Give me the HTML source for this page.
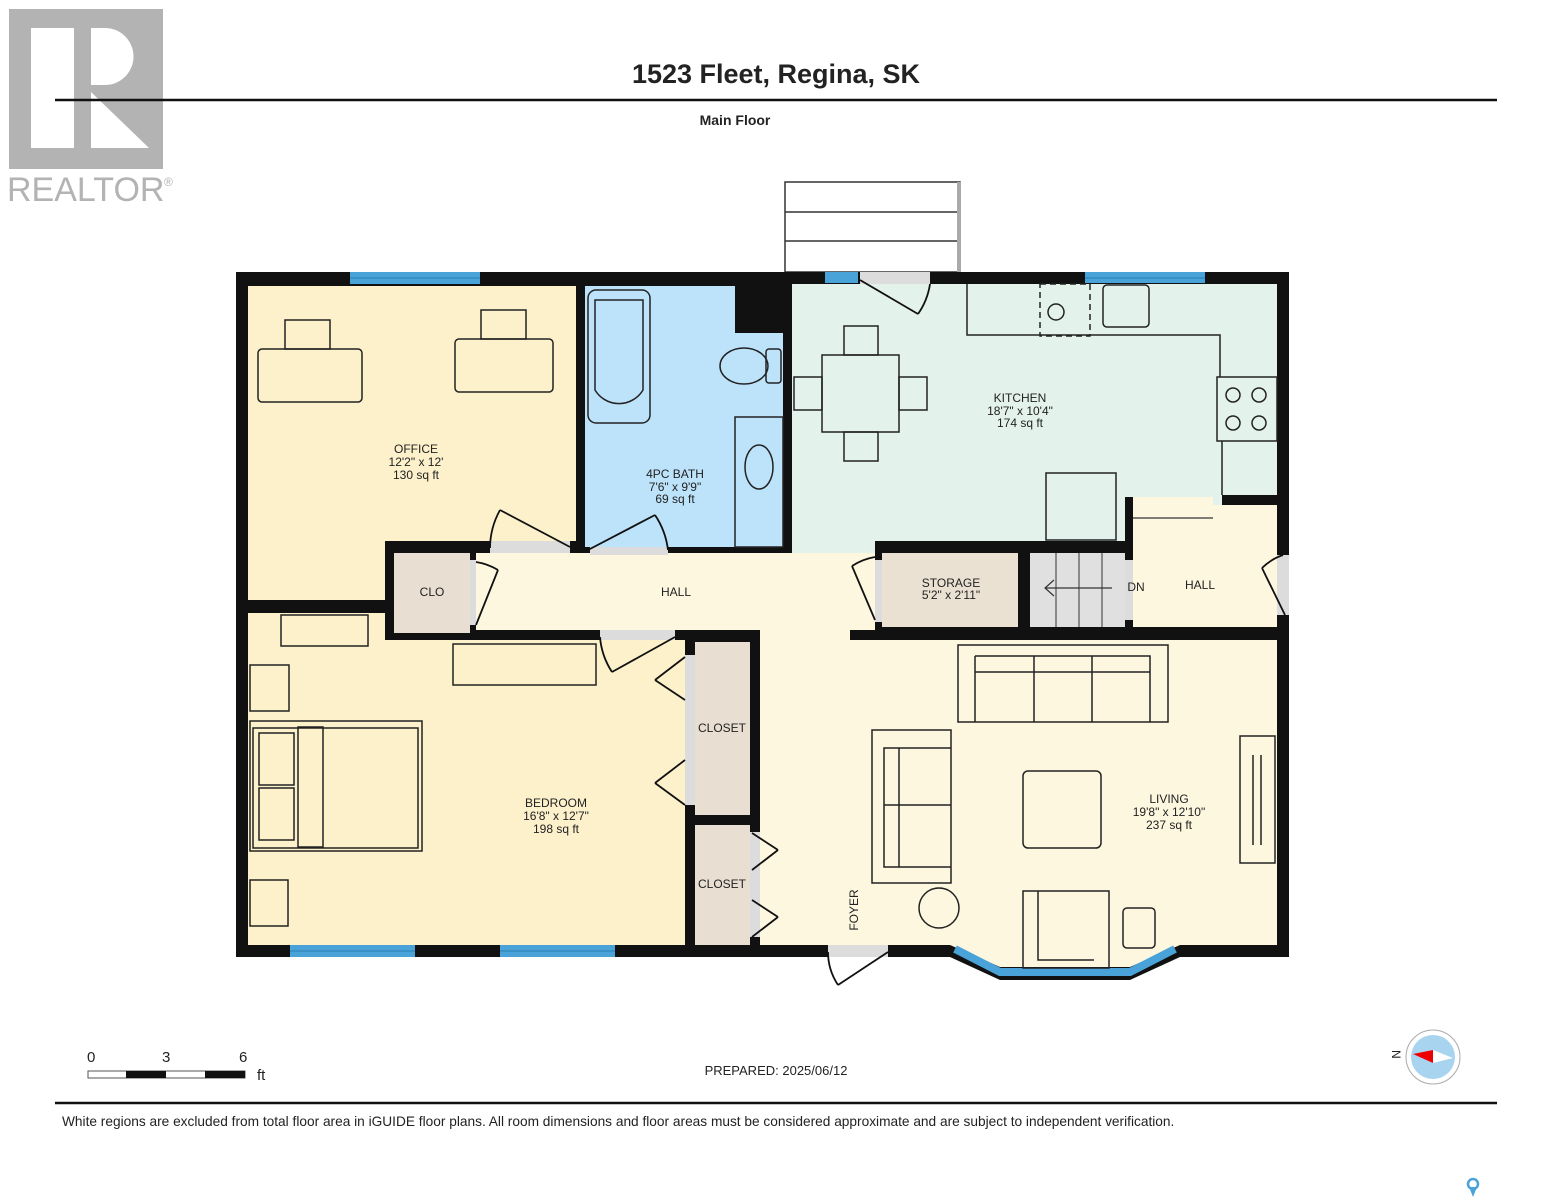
<!DOCTYPE html>
<html><head><meta charset="utf-8"><style>
html,body{margin:0;padding:0;background:#fff;}
svg{display:block;}
text{font-family:"Liberation Sans",Arial,sans-serif;fill:#222;}
</style></head><body>
<svg width="1553" height="1200" viewBox="0 0 1553 1200" xmlns="http://www.w3.org/2000/svg">
<!-- Realtor logo -->
<rect x="9" y="9" width="154" height="160" fill="#b3b3b3"/>
<rect x="31" y="28" width="43" height="120" fill="#fff"/>
<path d="M91 28 H105 A28.5 28.5 0 0 1 105 85 H91 Z" fill="#fff"/>
<path d="M91 92 L149 148 H91 Z" fill="#fff"/>
<text x="7" y="201" font-size="34" style="fill:#b3b3b3">REALTOR</text>
<text x="164" y="186" font-size="12" style="fill:#b3b3b3">®</text>
<!-- header -->
<text x="776" y="83" font-size="27" font-weight="bold" text-anchor="middle">1523 Fleet, Regina, SK</text>
<line x1="55" y1="100" x2="1497" y2="100" stroke="#111" stroke-width="2.5"/>
<text x="735" y="125" font-size="14" font-weight="bold" text-anchor="middle">Main Floor</text>
<!-- stoop -->
<rect x="785" y="182" width="175" height="90" fill="#fff" stroke="#333" stroke-width="1.5"/>
<line x1="785" y1="212" x2="960" y2="212" stroke="#333" stroke-width="1.5"/>
<line x1="785" y1="241" x2="960" y2="241" stroke="#333" stroke-width="1.5"/>
<rect x="957" y="182" width="4" height="90" fill="#aaa"/>
<!-- wall mass -->
<path d="M236 272 H1289 V957 H1180 L1130 980 H1000 L950 957 H236 Z" fill="#111"/>
<!-- rooms -->
<path d="M248 286 H576 V541 H385 V600 H248 Z" fill="#fdf1cc"/>
<path d="M585 286 H735 V333 H783 V547 H585 Z" fill="#bde3fb"/>
<path d="M792 284 H1277 V495 H1222 V505 H1213 V497 H1125 V541 H875 V553 H792 Z" fill="#e3f3ec"/>
<rect x="1133" y="505" width="144" height="122" fill="#fdf7e0"/>
<rect x="1133" y="497" width="80" height="43" fill="#fdf7e0"/>
<line x1="1133" y1="518" x2="1213" y2="518" stroke="#333" stroke-width="1.2"/>
<path d="M476 553 H875 V630 H850 V640 H1277 V945 H1180 L1130 967 H1000 L950 945 H760 V630 H476 Z" fill="#fdf7e0"/>
<rect x="394" y="553" width="76" height="80" fill="#e8dfd2"/>
<rect x="882" y="553" width="136" height="74" fill="#ebe1d3"/>
<rect x="1030" y="553" width="95" height="74" fill="#e0e0e0"/>
<g stroke="#333" stroke-width="1"><line x1="1056" y1="553" x2="1056" y2="627"/><line x1="1079" y1="553" x2="1079" y2="627"/><line x1="1102" y1="553" x2="1102" y2="627"/></g>
<line x1="1045" y1="588" x2="1112" y2="588" stroke="#333" stroke-width="1.2"/>
<path d="M1054 580 L1045 588 L1054 596" fill="none" stroke="#333" stroke-width="1.2"/>
<path d="M248 613 H385 V640 H685 V945 H248 Z" fill="#fdf1cc"/>
<rect x="695" y="642" width="55" height="173" fill="#e8dfd2"/>
<rect x="695" y="825" width="55" height="120" fill="#e8dfd2"/>
<!-- windows -->
<g fill="#4aa3d8">
<rect x="350" y="272" width="130" height="12"/>
<rect x="825" y="272" width="33" height="11"/>
<rect x="1085" y="272" width="120" height="11"/>
<rect x="290" y="945" width="125" height="12"/>
<rect x="500" y="945" width="115" height="12"/>
</g>
<path d="M955 949 L1000 972 L1130 972 L1175 949" fill="none" stroke="#4aa3d8" stroke-width="8"/>
<g stroke="#2a7fb5" stroke-width="1"><line x1="350" y1="278" x2="480" y2="278"/><line x1="1085" y1="278" x2="1205" y2="278"/><line x1="290" y1="951" x2="415" y2="951"/><line x1="500" y1="951" x2="615" y2="951"/></g>
<!-- door gaps -->
<g fill="#dcdcdc">
<rect x="860" y="272" width="70" height="12"/>
<rect x="490" y="541" width="80" height="12"/>
<rect x="590" y="547" width="78" height="8"/>
<rect x="470" y="560" width="6" height="65"/>
<rect x="875" y="560" width="7" height="62"/>
<rect x="1125" y="560" width="8" height="60"/>
<rect x="1277" y="555" width="12" height="60"/>
<rect x="600" y="630" width="75" height="10"/>
<rect x="685" y="655" width="10" height="150"/>
<rect x="750" y="832" width="10" height="105"/>
<rect x="828" y="945" width="60" height="12"/>
</g>
<g fill="none" stroke="#111" stroke-width="1.8">
<path d="M860 280 L918 314"/><path d="M918 314 A70 70 0 0 0 930 284"/>
<path d="M570 547 L500 510"/><path d="M500 510 A80 80 0 0 0 490 548"/>
<path d="M588 550 L655 515"/><path d="M655 515 A80 80 0 0 1 668 550"/>
<path d="M476 625 L498 570"/><path d="M498 570 A60 60 0 0 0 476 562"/>
<path d="M875 620 L852 566"/><path d="M852 566 A60 60 0 0 1 875 557"/>
<path d="M1285 615 L1262 568"/><path d="M1262 568 A55 55 0 0 1 1283 555"/>
<path d="M675 637 L612 672"/><path d="M612 672 A75 75 0 0 1 600 637"/>
<path d="M655 680 L685 657 M655 680 L685 700 M655 783 L685 760 M655 783 L685 805"/>
<path d="M778 850 L752 833 M778 850 L752 870 M778 917 L752 900 M778 917 L752 937"/>
<path d="M888 952 L838 985"/><path d="M838 985 A60 60 0 0 1 828 952"/>
</g>
<!-- furniture -->
<g fill="none" stroke="#222" stroke-width="1.5">
<rect x="258" y="349" width="104" height="53" rx="4"/>
<rect x="455" y="339" width="98" height="53" rx="4"/>
<rect x="285" y="320" width="45" height="29"/><rect x="481" y="310" width="45" height="29"/>
<rect x="588" y="290" width="62" height="133" rx="8"/><path d="M595 300 V390 A28 28 0 0 0 643 390 V300 Z"/>
<ellipse cx="744" cy="366" rx="24" ry="18"/><rect x="766" y="349" width="15" height="34" rx="3"/>
<rect x="735" y="417" width="48" height="130"/><ellipse cx="759" cy="467" rx="14" ry="22"/>
<path d="M967 284 V335 H1220 V377"/><rect x="1040" y="284" width="50" height="52" stroke-dasharray="6,4"/>
<circle cx="1056" cy="312" r="8"/><rect x="1103" y="285" width="46" height="42" rx="4"/>
<rect x="1217" y="377" width="60" height="64"/>
<circle cx="1233" cy="395" r="7"/><circle cx="1259" cy="395" r="7"/><circle cx="1233" cy="423" r="7"/><circle cx="1259" cy="423" r="7"/>
<path d="M1222 441 V495"/>
<rect x="1046" y="473" width="70" height="67"/>
<rect x="822" y="355" width="77" height="77"/>
<rect x="844" y="326" width="34" height="29"/><rect x="844" y="432" width="34" height="29"/>
<rect x="794" y="377" width="28" height="33"/><rect x="899" y="377" width="28" height="33"/>
<rect x="281" y="615" width="87" height="31"/>
<rect x="250" y="665" width="39" height="46"/><rect x="250" y="880" width="38" height="46"/>
<rect x="250" y="721" width="172" height="130"/><rect x="253" y="728" width="165" height="120"/>
<rect x="259" y="733" width="35" height="52"/><rect x="259" y="788" width="35" height="52"/>
<rect x="298" y="727" width="25" height="120"/>
<rect x="453" y="644" width="143" height="41"/>
<rect x="958" y="645" width="210" height="77"/><path d="M975 656 H1150 V722 M975 656 V722 M975 672 H1150 M1034 656 V722 M1092 656 V722"/>
<rect x="872" y="730" width="79" height="153"/><path d="M951 748 H884 V867 H951 M884 805 H951 M899 748 V867"/>
<rect x="1023" y="771" width="78" height="77" rx="5"/>
<circle cx="939" cy="908" r="20"/>
<rect x="1023" y="891" width="86" height="77"/><path d="M1038 891 V960 H1094"/>
<rect x="1123" y="908" width="32" height="40" rx="4"/>
<rect x="1240" y="736" width="35" height="127"/><path d="M1253 755 V845 M1261 755 V845"/>
</g>
<!-- labels -->
<g font-size="12" text-anchor="middle">
<text x="416" y="453">OFFICE</text><text x="416" y="466">12'2" x 12'</text><text x="416" y="479">130 sq ft</text>
<text x="675" y="478">4PC BATH</text><text x="675" y="491">7'6" x 9'9"</text><text x="675" y="503">69 sq ft</text>
<text x="1020" y="402">KITCHEN</text><text x="1020" y="415">18'7" x 10'4"</text><text x="1020" y="427">174 sq ft</text>
<text x="432" y="596">CLO</text><text x="676" y="596">HALL</text>
<text x="951" y="587">STORAGE</text><text x="951" y="599">5'2" x 2'11"</text>
<text x="1136" y="591">DN</text><text x="1200" y="589">HALL</text>
<text x="722" y="732">CLOSET</text><text x="722" y="888">CLOSET</text>
<text x="556" y="807">BEDROOM</text><text x="556" y="820">16'8" x 12'7"</text><text x="556" y="833">198 sq ft</text>
<text x="1169" y="803">LIVING</text><text x="1169" y="816">19'8" x 12'10"</text><text x="1169" y="829">237 sq ft</text>
<text transform="translate(858,910) rotate(-90)">FOYER</text>
</g>
<!-- footer -->
<text x="87" y="1062" font-size="15">0</text><text x="162" y="1062" font-size="15">3</text><text x="239" y="1062" font-size="15">6</text>
<rect x="88" y="1071" width="157" height="7" fill="#fff" stroke="#555"/>
<rect x="126" y="1071" width="40" height="7" fill="#111"/><rect x="205" y="1071" width="40" height="7" fill="#111"/>
<text x="257" y="1080" font-size="15">ft</text>
<text x="776" y="1075" font-size="13" text-anchor="middle">PREPARED: 2025/06/12</text>
<circle cx="1433" cy="1057" r="27" fill="#fff" stroke="#aaa"/>
<circle cx="1433" cy="1057" r="22" fill="#a8d4f0"/>
<path d="M1413 1054 L1433 1050 L1433 1063 Z" fill="#e00"/><path d="M1433 1050 L1453 1058 L1433 1063 Z" fill="#fff"/>
<text x="1392" y="1058" font-size="12" transform="rotate(90 1396 1054)">N</text>
<line x1="55" y1="1103" x2="1497" y2="1103" stroke="#111" stroke-width="2.5"/>
<text x="62" y="1126" font-size="13.7">White regions are excluded from total floor area in iGUIDE floor plans. All room dimensions and floor areas must be considered approximate and are subject to independent verification.</text>
<circle cx="1473" cy="1184" r="5" fill="none" stroke="#4aa3d8" stroke-width="2.5"/><path d="M1469 1187 L1473 1197 L1477 1187 Z" fill="#4aa3d8"/>
</svg>
</body></html>
